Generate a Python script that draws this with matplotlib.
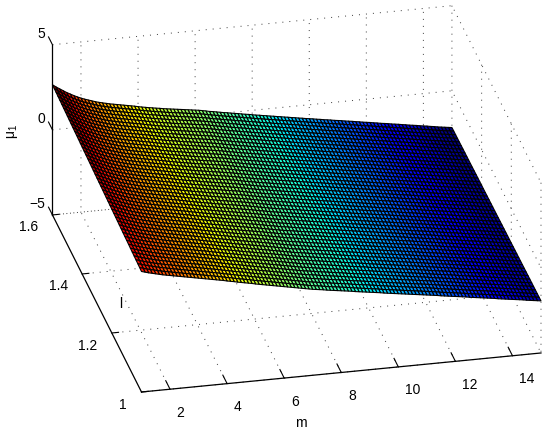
import numpy as np
import matplotlib
matplotlib.use('Agg')
import matplotlib.pyplot as plt
from matplotlib.transforms import Affine2D
from mpl_toolkits.mplot3d import proj3d

plt.rcParams['font.family'] = ['Liberation Sans', 'DejaVu Sans']
plt.rcParams['mathtext.fontset'] = 'custom'
plt.rcParams['mathtext.rm'] = 'Liberation Sans'
plt.rcParams['mathtext.it'] = 'Liberation Sans'
plt.rcParams['mathtext.default'] = 'regular'

# mu_1 along the l=1 edge, m = 1, 1.125, ... 15
z_front = [2.08, 2.02, 1.96, 1.91, 1.86, 1.81, 1.76, 1.72,
           1.68, 1.64, 1.60, 1.56, 1.52, 1.48, 1.44, 1.40,
           1.36, 1.32, 1.28, 1.24, 1.20, 1.16, 1.12, 1.08,
           1.03, 0.99, 0.95, 0.90, 0.86, 0.82, 0.78, 0.74,
           0.69, 0.65, 0.61, 0.57, 0.53, 0.49, 0.45, 0.41,
           0.37, 0.33, 0.29, 0.25, 0.21, 0.17, 0.13, 0.09,
           0.05, 0.02, -0.01, -0.04, -0.08, -0.11, -0.14, -0.17,
           -0.20, -0.23, -0.26, -0.29, -0.33, -0.36, -0.39, -0.42,
           -0.45, -0.48, -0.51, -0.54, -0.58, -0.61, -0.64, -0.67,
           -0.70, -0.73, -0.76, -0.79, -0.82, -0.85, -0.88, -0.91,
           -0.94, -0.97, -1.00, -1.03, -1.07, -1.10, -1.13, -1.16,
           -1.19, -1.22, -1.25, -1.28, -1.32, -1.35, -1.38, -1.41,
           -1.44, -1.47, -1.50, -1.53, -1.57, -1.60, -1.63, -1.66,
           -1.69, -1.72, -1.75, -1.78, -1.82, -1.85, -1.88, -1.91,
           -1.94]
# mu_1 along the l=1.6 edge, same m values
z_back = [2.65, 2.50, 2.37, 2.24, 2.11, 2.00, 1.89, 1.79,
          1.70, 1.62, 1.55, 1.48, 1.41, 1.35, 1.30, 1.25,
          1.20, 1.16, 1.12, 1.08, 1.04, 1.00, 0.96, 0.92,
          0.87, 0.83, 0.79, 0.75, 0.72, 0.68, 0.65, 0.61,
          0.58, 0.55, 0.52, 0.49, 0.46, 0.43, 0.40, 0.37,
          0.34, 0.31, 0.27, 0.23, 0.18, 0.15, 0.11, 0.07,
          0.03, 0.00, -0.04, -0.08, -0.11, -0.15, -0.19, -0.22,
          -0.26, -0.30, -0.33, -0.37, -0.40, -0.44, -0.47, -0.51,
          -0.54, -0.58, -0.61, -0.65, -0.68, -0.72, -0.75, -0.79,
          -0.82, -0.85, -0.89, -0.92, -0.96, -0.99, -1.02, -1.06,
          -1.09, -1.12, -1.16, -1.19, -1.22, -1.26, -1.29, -1.33,
          -1.36, -1.39, -1.43, -1.46, -1.50, -1.53, -1.56, -1.60,
          -1.63, -1.66, -1.70, -1.73, -1.77, -1.80, -1.83, -1.87,
          -1.90, -1.93, -1.97, -2.00, -2.04, -2.07, -2.10, -2.13,
          -2.16]

m_ticks = [2, 4, 6, 8, 10, 12, 14]
l_ticks = [1, 1.2, 1.4, 1.6]
l_labels = ['1', '1.2', '1.4', '1.6']
z_ticks = [-5, 0, 5]
z_labels = ['\u22125', '0', '5']

m_grid = np.linspace(1, 15, len(z_front))
l_grid = np.linspace(1, 1.6, 49)
M, L = np.meshgrid(m_grid, l_grid)
# each row runs straight from the l=1 edge to the l=1.6 edge
t = (l_grid - 1) / 0.6
Z = np.outer(1 - t, z_front) + np.outer(t, z_back)

W, H = 550, 434
fig = plt.figure(figsize=(5.5, 4.34), dpi=100)
ax = fig.add_axes([0.05, 0.05, 0.9, 0.9 * W / H], projection='3d', proj_type='ortho')
ax.view_init(elev=26.15, azim=-102.5)
ax.set_box_aspect((408.7, 411, 189.4))

ax.plot_surface(M, L, Z, rstride=1, cstride=1, cmap='jet', edgecolor='k',
                linewidth=0.8, shade=False, antialiased=True)

ax.set_xlim(1, 15)
ax.set_ylim(1, 1.6)
ax.set_zlim(-5, 5)
ax.set_xticks(m_ticks)
ax.set_yticks(l_ticks, l_labels)
ax.set_zticks(z_ticks, z_labels)
ax.tick_params(labelsize=10, pad=0)

for axis, out in [(ax.xaxis, 0.6), (ax.yaxis, 0.21), (ax.zaxis, 0.55)]:
    axis.set_pane_color((1, 1, 1, 0))
    axis.pane.set_edgecolor('none')
    axis.line.set_color('k')
    axis.line.set_linewidth(0.9)
    axis._axinfo['grid'].update(color='#444444', linewidth=0.72, linestyle=(0, (1, 6)))
    axis._axinfo['tick'].update(inward_factor=0, outward_factor=out, linewidth={True: 0.8, False: 0.8})
    axis._axinfo['tick']['color'] = 'k'
# z ticks run along the l direction in the original
ax.zaxis._get_tickdir = lambda position: 1


# mplot3d resets the label transform on every draw, so nudge it there
def nudge_labels(axis, ha, dx, dy):
    original = axis.get_major_ticks

    def get_major_ticks(numticks=None):
        ticks = original(numticks)
        for tick in ticks:
            tick.label1.set_ha(ha)
            tick.label1.set_transform(ax.transData + Affine2D().translate(dx, dy))
        return ticks
    axis.get_major_ticks = get_major_ticks


nudge_labels(ax.xaxis, 'left', 3.5, -4)
nudge_labels(ax.yaxis, 'right', 0, 2)
nudge_labels(ax.zaxis, 'right', 10, 12.5)

# move the axes so the m axis lands where it is in the picture
fig.canvas.draw()


def to_px(x, y, z):
    px, py, _ = proj3d.proj_transform(x, y, z, ax.get_proj())
    return ax.transData.transform((px, py))


p0 = to_px(1, 1, -5)
p1 = to_px(15, 1, -5)
box = ax.bbox
size = box.width * 399.5 / (p1[0] - p0[0])
rel = (p0 - box.p0) / box.width
left = 141.5 - rel[0] * size
bottom = (H - 392) - rel[1] * size
ax.set_position([left / W, bottom / H, size / W, size / H])

fig.text(301 / W, 1 - 423 / H, 'm', ha='center', va='center', fontsize=10)
fig.text(121 / W, 1 - 304 / H, 'l', ha='center', va='center', fontsize=10)
fig.text(13 / W, 1 - 131 / H, r'$\mu_1$', ha='center', va='center', fontsize=10, rotation=90)

fig.savefig('out.png', dpi=100)
